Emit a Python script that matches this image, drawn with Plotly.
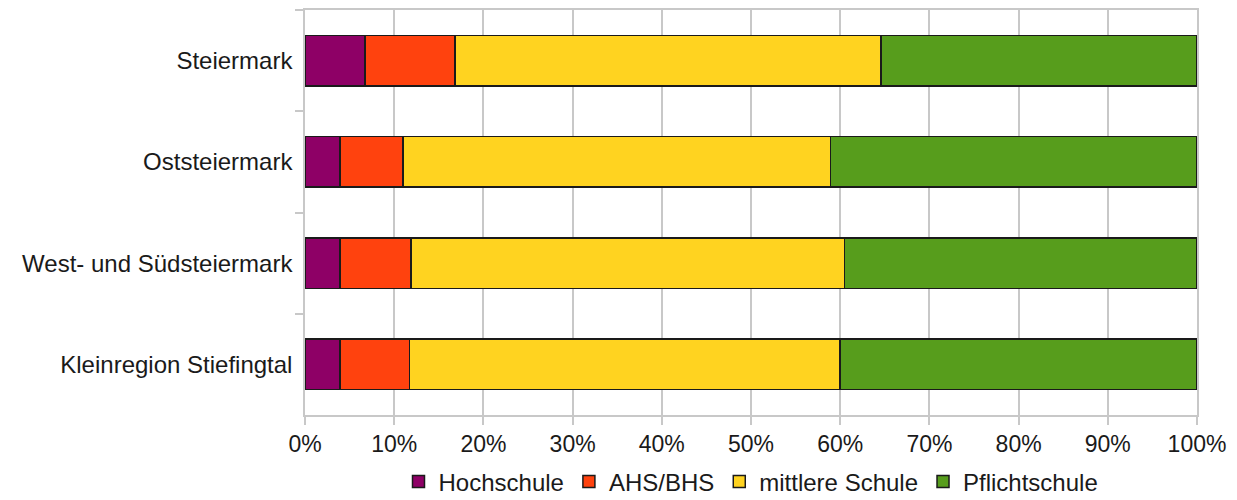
import plotly.graph_objects as go

regions = ["Steiermark", "Oststeiermark", "West- und Südsteiermark", "Kleinregion Stiefingtal"]
series_names = ["Hochschule", "AHS/BHS", "mittlere Schule", "Pflichtschule"]
hochschule = [6.7, 3.9, 3.9, 3.9]
ahs_bhs = [10.1, 7.1, 8.0, 7.8]
mittlere = [47.8, 47.9, 48.6, 48.3]
pflicht = [35.4, 41.1, 39.5, 40.0]
colors = ["#8e0066", "#ff420e", "#ffd320", "#579d1c"]
tick_vals = [0, 10, 20, 30, 40, 50, 60, 70, 80, 90, 100]
tick_text = [f"{v}%" for v in tick_vals]

fig = go.Figure()
for name, vals, col in zip(series_names, [hochschule, ahs_bhs, mittlere, pflicht], colors):
    fig.add_trace(go.Bar(
        y=regions, x=vals, name=name, orientation="h",
        marker=dict(color=col, line=dict(color="#1a1a1a", width=1.5)),
    ))

fig.update_layout(
    width=1237, height=500,
    barmode="stack", bargap=0.5,
    margin=dict(l=305, r=40, t=10, b=85, autoexpand=False),
    paper_bgcolor="white", plot_bgcolor="white",
    font=dict(family="Liberation Sans, Arial, sans-serif", size=23, color="#1a1a1a"),
    legend=dict(orientation="h", x=0.5, xanchor="center", y=-0.165, yanchor="middle",
                font=dict(size=24), traceorder="normal", itemwidth=30),
    showlegend=True,
)
fig.update_xaxes(
    range=[0, 100], tickvals=tick_vals, ticktext=tick_text,
    showgrid=True, gridcolor="#c8c8c8", gridwidth=1.5,
    showline=True, linecolor="#c8c8c8", linewidth=1.5, mirror=True,
    ticks="outside", ticklen=8, tickcolor="#c8c8c8", tickwidth=1.5,
    zeroline=False, fixedrange=True,
)
fig.update_yaxes(
    categoryorder="array", categoryarray=regions, autorange="reversed",
    tickfont=dict(size=24),
    showgrid=False, showline=True, linecolor="#c8c8c8", linewidth=1.5, mirror=True,
    ticks="outside", tickson="boundaries", ticklen=8, tickcolor="#c8c8c8", tickwidth=1.5,
    ticklabelstandoff=6, fixedrange=True,
)

fig.write_html("out.html")
